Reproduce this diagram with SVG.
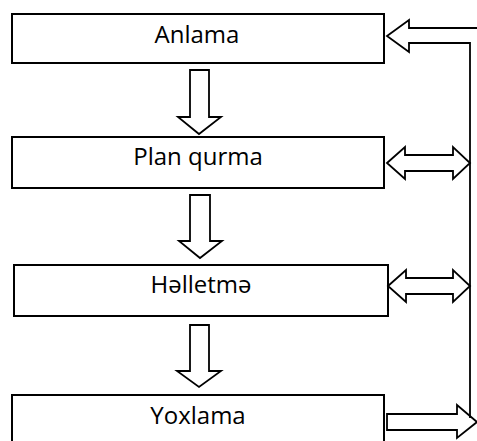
<svg xmlns="http://www.w3.org/2000/svg" width="477" height="441" viewBox="0 0 477 441">
<style>
.box{fill:#fff;stroke:#000;stroke-width:2}
.arr{fill:#fff;stroke:#000;stroke-width:1.8;stroke-linejoin:miter}
.ln{fill:none;stroke:#000;stroke-width:1.8}
text{font-family:"Open Sans","Liberation Sans",sans-serif;font-size:24px;fill:#000;text-anchor:middle}
</style>
<rect width="477" height="441" fill="#fff"/>
<g id="anlama"><rect class="box" x="12" y="14" width="372" height="49"/><text x="197" y="43">Anlama</text></g>
<g id="plan-qurma"><rect class="box" x="12" y="137" width="372" height="51"/><text x="198" y="165">Plan qurma</text></g>
<g id="halletma"><rect class="box" x="14" y="265" width="374" height="51"/><text x="201" y="293">Həlletmə</text></g>
<g id="yoxlama"><rect class="box" x="12" y="395" width="372" height="60"/><text x="198" y="424">Yoxlama</text></g>
<g id="connectors">
<polygon class="arr" points="190,70 209,70 209,117 221,117 199,134 178,117 190,117"/>
<polygon class="arr" points="190,195 210,195 210,241 222,241 200,258 179,241 190,241"/>
<polygon class="arr" points="190,325 209,325 209,371 221,371 199,387 177,371 190,371"/>
<polygon class="arr" points="387,414 457,414 457,405 477,422 457,438 457,430 387,430"/>
<polyline class="ln" points="478,28 409,28 409,20 387,36 409,52 409,43 470,43 470,418"/>
<polygon class="arr" points="387,163 405,147 405,155 453,155 453,147 470,163 453,179 453,171 405,171 405,179"/>
<polygon class="arr" points="388,286 406,270 406,278 453,278 453,270 470,286 453,302 453,294 406,294 406,302"/>
</g>
</svg>
